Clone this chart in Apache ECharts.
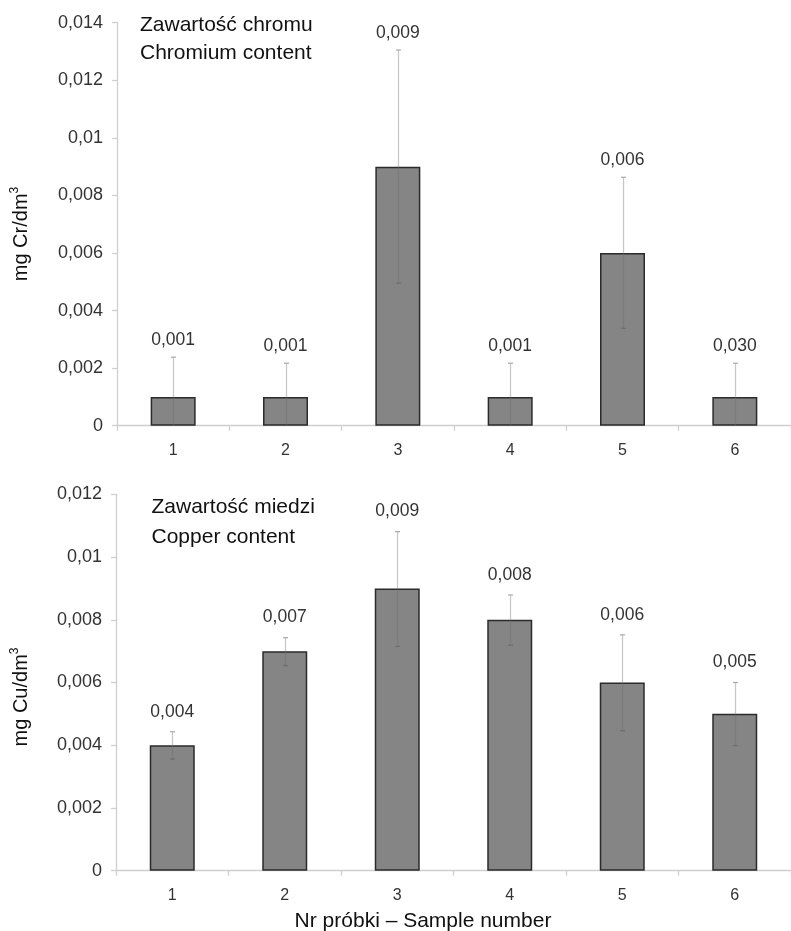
<!DOCTYPE html>
<html>
<head>
<meta charset="utf-8">
<script src="https://cdn.jsdelivr.net/npm/echarts@6/dist/echarts.min.js"></script>
<style>html,body{margin:0;padding:0;background:#fff;}#c{width:791px;height:931px;}</style>
</head>
<body>
<div id="c"></div>
<script>
const categories = ['1', '2', '3', '4', '5', '6'];
const yTicksTopMax = 0.014;
const yTicksBottomMax = 0.012;
const tickStep = 0.002;

const chromium = [0.001, 0.001, 0.009, 0.001, 0.006, 0.001];
const chromiumErrLow = [0, 0, 0.00495, 0, 0.00338, 0];
const chromiumErrHigh = [0.00238, 0.00217, 0.01305, 0.00217, 0.00863, 0.00217];
const chromiumLabels = ['0,001', '0,001', '0,009', '0,001', '0,006', '0,030'];

const copper = [0.004, 0.007, 0.009, 0.008, 0.006, 0.005];
const copperErrLow = [0.00356, 0.00654, 0.00715, 0.00719, 0.00446, 0.00399];
const copperErrHigh = [0.00443, 0.00743, 0.01081, 0.00879, 0.00752, 0.0060];
const copperLabels = ['0,004', '0,007', '0,009', '0,008', '0,006', '0,005'];

const FONT = 'Liberation Sans, Arial, sans-serif';

function fmt(v) {
  return String(+(+v).toFixed(4)).replace('.', ',');
}

function errorSeries(axisIdx, lows, highs, labels, gap) {
  return {
    type: 'custom',
    xAxisIndex: axisIdx,
    yAxisIndex: axisIdx,
    z: 5,
    data: lows.map((lo, i) => [i, lo, highs[i]]),
    encode: { x: 0, y: [1, 2] },
    renderItem: function (params, api) {
      const i = api.value(0);
      const lo = api.value(1);
      const hi = api.value(2);
      const pHi = api.coord([i, hi]);
      const pLo = api.coord([i, lo]);
      const x = Math.round(pHi[0]) + 0.5;
      const children = [
        { type: 'line', shape: { x1: x, y1: pHi[1], x2: x, y2: pLo[1] },
          style: { stroke: 'rgba(110,110,110,0.38)', lineWidth: 1.3 } },
        { type: 'line', shape: { x1: x - 2.5, y1: pHi[1], x2: x + 2.5, y2: pHi[1] },
          style: { stroke: '#a8a8a8', lineWidth: 1.2 } }
      ];
      if (lo > 0) {
        children.push({ type: 'line', shape: { x1: x - 2.5, y1: pLo[1], x2: x + 2.5, y2: pLo[1] },
          style: { stroke: 'rgba(90,90,90,0.5)', lineWidth: 1.2 } });
      }
      children.push({
        type: 'text',
        style: {
          x: pHi[0], y: pHi[1] - gap,
          text: labels[params.dataIndex],
          align: 'center', verticalAlign: 'middle',
          font: '17.5px ' + FONT, fill: '#333'
        }
      });
      return { type: 'group', children: children };
    }
  };
}

function xAxisDef(gridIndex) {
  return {
    type: 'category', gridIndex: gridIndex, data: categories,
    axisLine: { lineStyle: { color: '#cfcfcf', width: 1.3 } },
    axisTick: { show: true, length: 5, lineStyle: { color: '#cfcfcf', width: 1.3 } },
    axisLabel: { color: '#333', fontSize: 16, fontFamily: FONT, margin: 17 }
  };
}

function yAxisDef(gridIndex, max) {
  return {
    type: 'value', gridIndex: gridIndex, min: 0, max: max, interval: tickStep,
    splitLine: { show: false },
    axisLine: { show: true, lineStyle: { color: '#cfcfcf', width: 1.3 } },
    axisTick: { show: true, length: 5, lineStyle: { color: '#cfcfcf', width: 1.3 } },
    axisLabel: { color: '#333', fontSize: 18, fontFamily: FONT, margin: 14, formatter: fmt }
  };
}

function barSeries(axisIdx, values) {
  return {
    type: 'bar', xAxisIndex: axisIdx, yAxisIndex: axisIdx,
    data: values, barWidth: 45,
    itemStyle: { color: '#858585', borderColor: '#2b2b2b', borderWidth: 1.5 },
    z: 2
  };
}

function titleText(x, y, text) {
  return { type: 'text', x: x, y: y,
    style: { text: text, align: 'left', verticalAlign: 'middle', font: '21px ' + FONT, fill: '#111' } };
}

function yName(y, main) {
  return { type: 'text', x: 20, y: y, rotation: Math.PI / 2,
    style: { text: '{b|' + main + '}{s|3}', align: 'center', verticalAlign: 'middle', fill: '#111',
      rich: { b: { fontSize: 20, fontFamily: FONT, fill: '#111', lineHeight: 22, verticalAlign: 'bottom' },
              s: { fontSize: 12, fontFamily: FONT, fill: '#111', lineHeight: 22, verticalAlign: 'top', padding: [0, 0, 8, 0] } } } };
}

const chart = echarts.init(document.getElementById('c'), null, { renderer: 'canvas' });
chart.setOption({
  animation: false,
  backgroundColor: '#fff',
  textStyle: { fontFamily: FONT },
  grid: [
    { left: 117, top: 22.7, width: 680, height: 403 },
    { left: 116, top: 494.3, width: 680, height: 376.4 }
  ],
  xAxis: [xAxisDef(0), xAxisDef(1)],
  yAxis: [yAxisDef(0, yTicksTopMax), yAxisDef(1, yTicksBottomMax)],
  series: [
    barSeries(0, chromium),
    errorSeries(0, chromiumErrLow, chromiumErrHigh, chromiumLabels, 17),
    barSeries(1, copper),
    errorSeries(1, copperErrLow, copperErrHigh, copperLabels, 20)
  ],
  graphic: [
    titleText(140, 25, 'Zawartość chromu'),
    titleText(140, 53.5, 'Chromium content'),
    titleText(151.5, 507, 'Zawartość miedzi'),
    titleText(151.5, 537.5, 'Copper content'),
    yName(234, 'mg Cr/dm'),
    yName(697, 'mg Cu/dm'),
    { type: 'text', x: 423, y: 921, style: { text: 'Nr próbki – Sample number', align: 'center', verticalAlign: 'middle', font: '21px ' + FONT, fill: '#111' } }
  ]
});
</script>
</body>
</html>
